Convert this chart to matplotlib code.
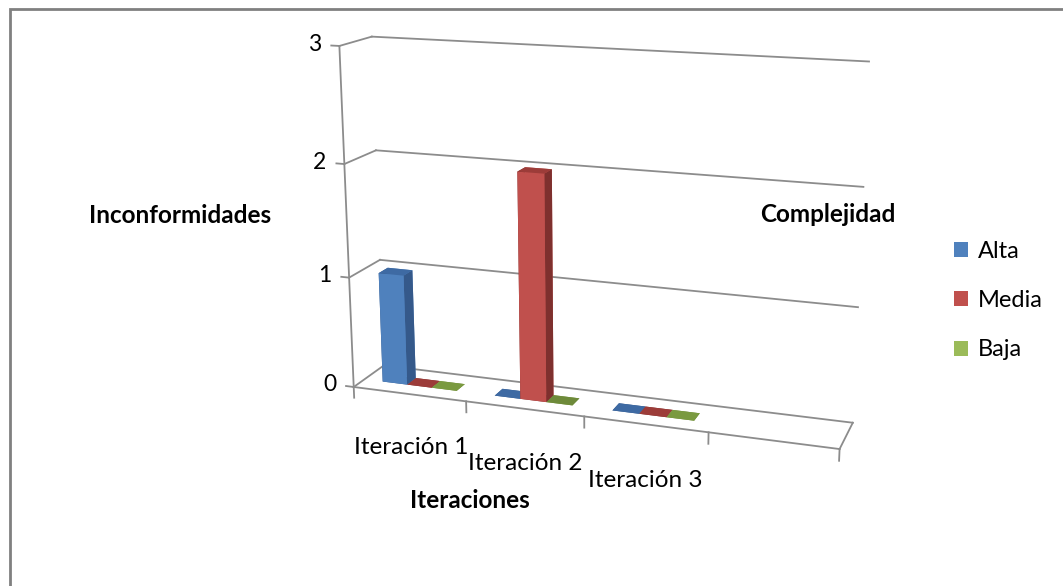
import numpy as np
import matplotlib
matplotlib.use("Agg")
import matplotlib.pyplot as plt
from matplotlib.patches import Patch, Rectangle

plt.rcParams['font.family'] = ['Lato', 'DejaVu Sans']

categories = ["Iteración 1", "Iteración 2", "Iteración 3", ""]
series = ["Alta", "Media", "Baja"]
alta = [1, 0, 0, np.nan]
media = [0, 2, 0, np.nan]
baja = [0, 0, 0, np.nan]
z_ticks = [0, 1, 2, 3]

front_cols = ["#4F81BD", "#C0504D", "#9BBB59"]
side_cols = ["#35598A", "#7E302E", "#6E8A3A"]
top_cols = ["#3E6AA3", "#9C3C39", "#7A9A40"]
line_col = "#8C8C8C"

fig = plt.figure(figsize=(10.63, 5.86), dpi=100)
ax = fig.add_axes([0.213, 0.087, 0.68, 1.0], projection='3d')

n_cat = len(categories)
depth = 1.0
w = 0.222
xs, ys, dzs, cols = [], [], [], []
for j, vals in enumerate([alta, media, baja]):
    for i, v in enumerate(vals):
        if np.isnan(v):
            continue
        xs.append(i + 0.5 + (j - 1.5) * w)
        ys.append(depth * 0.35)
        dzs.append(v)
        # faces: bottom, top, front, back, left, right
        cols += [side_cols[j], top_cols[j], front_cols[j], front_cols[j],
                 side_cols[j], side_cols[j]]

ax.bar3d(xs, ys, np.zeros(len(xs)), w, depth * 0.3, dzs, color=cols,
         shade=False, edgecolor='none')

# walls and floor outline
zmax = max(z_ticks)
for z in z_ticks:
    ax.plot([0, n_cat], [depth, depth], [z, z], color=line_col, lw=1.3)
    ax.plot([0, 0], [0, depth], [z, z], color=line_col, lw=1.3)
    ax.plot([-0.07, 0], [0, 0], [z, z], color=line_col, lw=1.3)
    ax.text(-0.16, 0, z, str(z), ha='right', va='center', fontsize=16.5)
ax.plot([0, 0], [0, 0], [0, zmax], color=line_col, lw=1.3)
ax.plot([0, n_cat], [0, 0], [0, 0], color=line_col, lw=1.3)
ax.plot([n_cat, n_cat], [0, depth], [0, 0], color=line_col, lw=1.3)
for i in range(n_cat + 1):
    ax.plot([i, i], [0, 0], [0, -0.1], color=line_col, lw=1.3)
for i, c in enumerate(categories):
    if c:
        ax.text(i + 0.5, 0, -0.5, c, ha='center', va='center', fontsize=17.5)

ax.set_xlim(0, n_cat)
ax.set_ylim(0, depth)
ax.set_zlim(0, zmax)
ax.set_xticks([])
ax.set_yticks([])
ax.set_zticks([])
for a in (ax.xaxis, ax.yaxis, ax.zaxis):
    a.label.set_visible(False)
    a.offsetText.set_visible(False)
ax.set_box_aspect((4, 0.55, 2.8), zoom=1.055)
ax.set_proj_type('persp', focal_length=0.5)
ax.view_init(elev=15, azim=-71)
ax.set_axis_off()

fig.text(180 / 1063, 1 - 216 / 586, "Inconformidades", ha='center', va='center',
         fontsize=17.5, fontweight='bold')
fig.text(828 / 1063, 1 - 214 / 586, "Complejidad", ha='center', va='center',
         fontsize=17.5, fontweight='bold')
fig.text(470 / 1063, 1 - 500 / 586, "Iteraciones", ha='center', va='center',
         fontsize=17.5, fontweight='bold')

handles = [Patch(facecolor=c, edgecolor='none') for c in front_cols]
fig.legend(handles, series, loc='center left', bbox_to_anchor=(0.897, 0.487),
           frameon=False, fontsize=17, handlelength=0.6, handleheight=0.6,
           handletextpad=0.45, labelspacing=1.2, borderpad=0, borderaxespad=0)

fig.patches.append(Rectangle((0.009, -0.1), 1.1, 1.085, transform=fig.transFigure,
                             fill=False, edgecolor='#808080', lw=2))

fig.savefig("out.png", dpi=100)
